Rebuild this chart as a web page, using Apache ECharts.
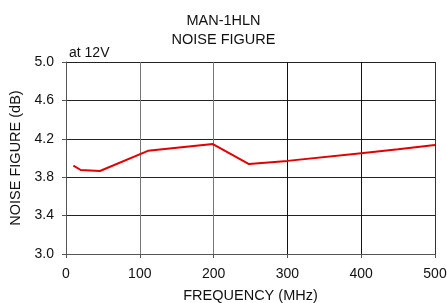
<!DOCTYPE html>
<html>
<head>
<meta charset="utf-8">
<script src="https://cdn.jsdelivr.net/npm/echarts@6/dist/echarts.min.js"></script>
<style>
  html, body { margin: 0; padding: 0; background: #fff; }
  #chart { width: 447px; height: 303px; }
</style>
</head>
<body>
<div id="chart"></div>
<script>
// noise figure vs frequency
const freqMHz = [10, 20, 46, 111, 199, 248, 300, 400, 450, 500];
const noiseDb = [3.92, 3.875, 3.865, 4.075, 4.145, 3.937, 3.97, 4.05, 4.09, 4.135];

const titleLines = ["MAN-1HLN", "NOISE FIGURE"];
const noteText = "at 12V";

const fontFamily = "Liberation Sans, Arial, sans-serif";

const chart = echarts.init(document.getElementById("chart"));
chart.setOption({
  animation: false,
  textStyle: { fontFamily: fontFamily },
  title: [
    {
      text: titleLines.join("\n"),
      left: "center",
      top: 6,
      textStyle: {
        fontSize: 14.5,
        fontWeight: "normal",
        color: "#111",
        lineHeight: 19
      }
    },
    {
      text: noteText,
      left: 64,
      top: 41,
      textStyle: { fontSize: 14, fontWeight: "normal", color: "#111" }
    }
  ],
  grid: {
    left: 66, right: 12, top: 62, bottom: 49,
    containLabel: false,
    outerBoundsMode: "none"
  },
  xAxis: {
    type: "value",
    min: 0,
    max: 500,
    interval: 100,
    name: "FREQUENCY (MHz)",
    nameLocation: "middle",
    nameGap: 34,
    nameTextStyle: { fontSize: 14.5, color: "#111" },
    axisLine: { lineStyle: { color: "#555", width: 1 } },
    axisTick: { show: true, length: 4, lineStyle: { color: "#555" } },
    axisLabel: { fontSize: 14, color: "#111", margin: 13 },
    splitLine: {
      show: true,
      lineStyle: { color: ["#777", "#777", "#777", "#111", "#111", "#333"], width: 1 }
    }
  },
  yAxis: {
    type: "value",
    min: 3.0,
    max: 5.0,
    interval: 0.4,
    name: "NOISE FIGURE (dB)",
    nameLocation: "middle",
    nameGap: 36,
    nameTextStyle: { fontSize: 14.5, color: "#111" },
    axisLine: { show: true, lineStyle: { color: "#555", width: 1 } },
    axisTick: { show: true, length: 4, lineStyle: { color: "#555" } },
    axisLabel: {
      fontSize: 14,
      color: "#111",
      margin: 12,
      formatter: v => v.toFixed(1)
    },
    splitLine: { show: true, lineStyle: { color: "#222", width: 1 } }
  },
  series: [
    {
      type: "line",
      data: freqMHz.map((f, i) => [f, noiseDb[i]]),
      symbol: "none",
      smooth: false,
      lineStyle: { color: "#e00000", width: 2 }
    }
  ]
});
</script>
</body>
</html>
